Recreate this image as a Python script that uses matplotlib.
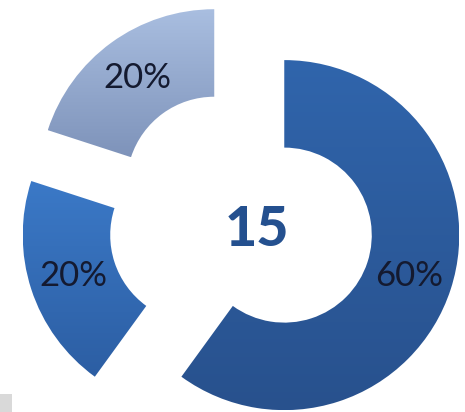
import matplotlib.pyplot as plt
import numpy as np
from matplotlib.colors import LinearSegmentedColormap

plt.rcParams['font.family'] = ['Lato', 'DejaVu Sans']

shares = [60, 20, 20]
labels = ['60%', '20%', '20%']
total = 15
# top/bottom colours of each segment gradient
tops = ['#3065ac', '#3b79c7', '#a9bee0']
bottoms = ['#28518d', '#2c5ea3', '#7e93ba']

fig = plt.figure(figsize=(4.65, 4.12), dpi=100)
ax = fig.add_axes([0, 0, 1, 1])

wedges, texts, autotexts = ax.pie(
    shares, startangle=90, counterclock=False, explode=[0.26] * 3,
    autopct=lambda p: '%d%%' % round(p), pctdistance=0.75,
    wedgeprops=dict(width=0.5, linewidth=0),
    textprops=dict(fontsize=25, color='#141a30'))

for w, c1, c2 in zip(wedges, tops, bottoms):
    w.set_facecolor('none')
    cmap = LinearSegmentedColormap.from_list('g', [c2, c1])
    grad = np.linspace(0, 1, 256).reshape(-1, 1)
    x0, y0, x1, y1 = w.get_path().get_extents().extents
    im = ax.imshow(grad, cmap=cmap, origin='lower', aspect='auto',
                   extent=[x0, x1, y0, y1], zorder=1)
    im.set_clip_path(w)

for t in autotexts:
    t.set_zorder(3)

ax.text(0.09, -0.05, str(total), ha='center', va='center', fontsize=40,
        fontweight='black', color='#24508f', zorder=3)

# small grey block in the lower left corner
ax.add_patch(plt.Rectangle((-1.377, -1.091), 0.07, 0.1, color='#d9d9d9',
                           lw=0, zorder=0))

ax.set_xlim(-1.377, 1.28)
ax.set_ylim(-1.091, 1.263)
ax.set_aspect('auto')
ax.axis('off')

plt.savefig('out.png', dpi=100)
